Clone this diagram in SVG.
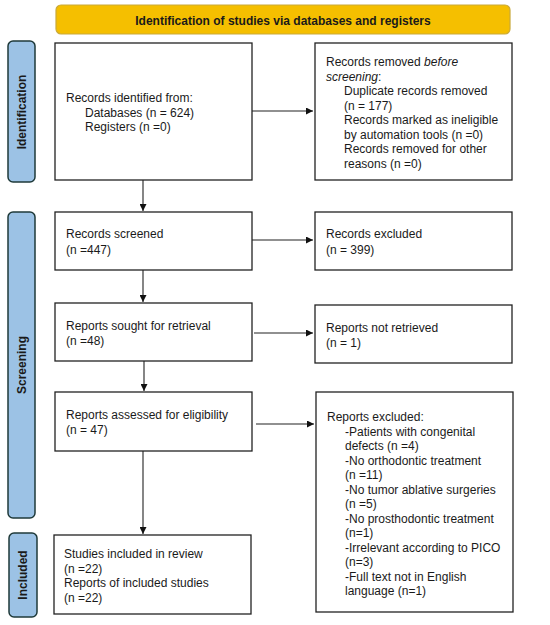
<svg xmlns="http://www.w3.org/2000/svg" width="550" height="625" viewBox="0 0 550 625">
<style>
text{font-family:"Liberation Sans",Arial,sans-serif;font-size:12px;fill:#1a1a1a}
.b{font-weight:bold}
.box{fill:#fff;stroke:#222;stroke-width:1.3}
.side{fill:#9cc2e5;stroke:#1f3a3a;stroke-width:1.5}
.ln{stroke:#222;stroke-width:1.1;fill:none}
</style>
<defs>
<marker id="ah" viewBox="0 0 10 10" refX="10" refY="5" markerWidth="7" markerHeight="7" markerUnits="userSpaceOnUse" orient="auto">
<path d="M0,0 L10,5 L0,10 z" fill="#111"/>
</marker>
</defs>
<rect width="550" height="625" fill="#fff"/>
<g id="banner">
<rect x="56" y="5" width="454" height="29" rx="5" fill="#f5bf00" stroke="#c9a93a" stroke-width="1.2"/>
<text class="b" x="283" y="25" text-anchor="middle">Identification of studies via databases and registers</text>
</g>
<g id="lbl-identification">
<rect class="side" x="8" y="41" width="27" height="141" rx="5"/>
<text class="b" transform="translate(26,112) rotate(-90)" text-anchor="middle">Identification</text>
</g>
<g id="lbl-screening">
<rect class="side" x="8" y="212" width="27" height="306" rx="5"/>
<text class="b" transform="translate(26,365) rotate(-90)" text-anchor="middle">Screening</text>
</g>
<g id="lbl-included">
<rect class="side" x="9" y="533" width="28" height="84" rx="5"/>
<text class="b" transform="translate(27,575) rotate(-90)" text-anchor="middle">Included</text>
</g>
<g id="n-identified">
<rect class="box" x="55" y="43" width="197" height="137"/>
<text x="66" y="102">Records identified from:</text>
<text x="85" y="116.5">Databases (n = 624)</text>
<text x="85" y="131">Registers (n =0)</text>
</g>
<g id="n-removed">
<rect class="box" x="315" y="43" width="197" height="137"/>
<text x="326" y="66">Records removed <tspan font-style="italic">before</tspan></text>
<text x="326" y="81"><tspan font-style="italic">screening</tspan>:</text>
<text x="344" y="95">Duplicate records removed</text>
<text x="344" y="109.5">(n = 177)</text>
<text x="344" y="124">Records marked as ineligible</text>
<text x="344" y="138.5">by automation tools (n =0)</text>
<text x="344" y="153">Records removed for other</text>
<text x="344" y="167.5">reasons (n =0)</text>
</g>
<g id="n-screened">
<rect class="box" x="55" y="212" width="197" height="58"/>
<text x="66" y="238">Records screened</text>
<text x="66" y="254">(n =447)</text>
</g>
<g id="n-excluded">
<rect class="box" x="315" y="212" width="197" height="58"/>
<text x="326" y="238">Records excluded</text>
<text x="326" y="254">(n = 399)</text>
</g>
<g id="n-sought">
<rect class="box" x="55" y="303" width="197" height="58"/>
<text x="66" y="330">Reports sought for retrieval</text>
<text x="66" y="345">(n =48)</text>
</g>
<g id="n-notretrieved">
<rect class="box" x="315" y="305" width="197" height="58"/>
<text x="326" y="332">Reports not retrieved</text>
<text x="326" y="347">(n = 1)</text>
</g>
<g id="n-assessed">
<rect class="box" x="55" y="392" width="197" height="59"/>
<text x="66" y="419">Reports assessed for eligibility</text>
<text x="66" y="434">(n = 47)</text>
</g>
<g id="n-reportsexcluded">
<rect class="box" x="316" y="392" width="197" height="220"/>
<text x="327" y="421">Reports excluded:</text>
<text x="345" y="435.5">-Patients with congenital</text>
<text x="345" y="450">defects (n =4)</text>
<text x="345" y="464.5">-No orthodontic treatment</text>
<text x="345" y="479">(n =11)</text>
<text x="345" y="493.5">-No tumor ablative surgeries</text>
<text x="345" y="508">(n =5)</text>
<text x="345" y="522.5">-No prosthodontic treatment</text>
<text x="345" y="537">(n=1)</text>
<text x="345" y="551.5">-Irrelevant according to PICO</text>
<text x="345" y="566">(n=3)</text>
<text x="345" y="580.5">-Full text not in English</text>
<text x="345" y="595">language (n=1)</text>
</g>
<g id="n-included">
<rect class="box" x="54" y="535" width="197" height="79"/>
<text x="64" y="558">Studies included in review</text>
<text x="64" y="572.5">(n =22)</text>
<text x="64" y="587">Reports of included studies</text>
<text x="64" y="601.5">(n =22)</text>
</g>
<g id="connectors">
<line class="ln" x1="252" y1="111" x2="313" y2="111" marker-end="url(#ah)"/>
<line class="ln" x1="143" y1="180" x2="143" y2="211" marker-end="url(#ah)"/>
<line class="ln" x1="252" y1="240" x2="313" y2="240" marker-end="url(#ah)"/>
<line class="ln" x1="143" y1="270" x2="143" y2="302" marker-end="url(#ah)"/>
<line class="ln" x1="254" y1="333" x2="313" y2="333" marker-end="url(#ah)"/>
<line class="ln" x1="144" y1="361" x2="144" y2="391" marker-end="url(#ah)"/>
<line class="ln" x1="256" y1="424" x2="314" y2="424" marker-end="url(#ah)"/>
<line class="ln" x1="143" y1="451" x2="143" y2="534" marker-end="url(#ah)"/>
</g>
</svg>
